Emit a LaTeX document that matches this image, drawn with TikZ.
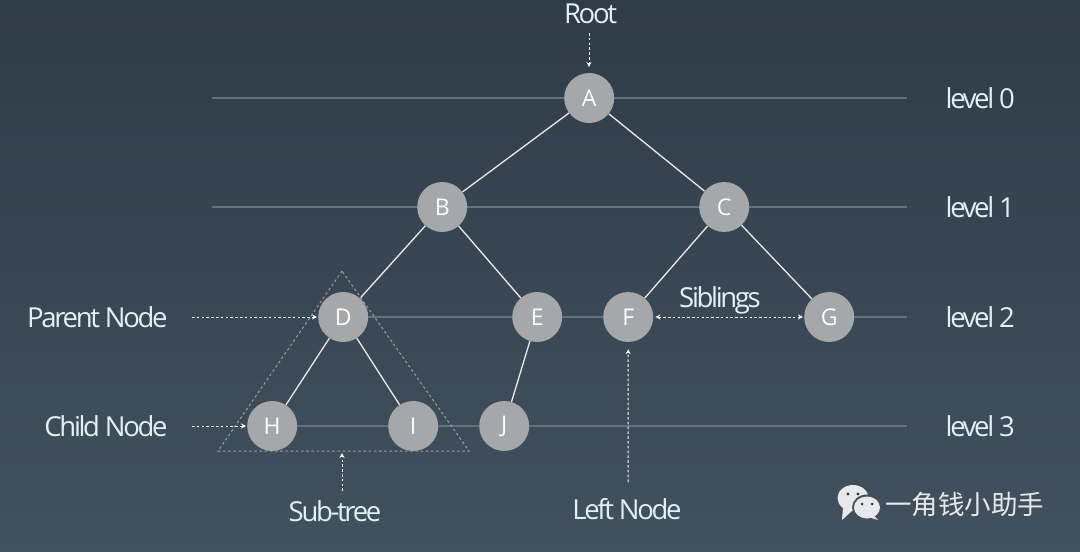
\documentclass[tikz,border=0pt]{standalone}
\usepackage{fontspec}
\setmainfont{Open Sans}
\newfontfamily\labelfont{Open Sans}[LetterSpace=-8.5]
\newfontfamily\cjkfont{Noto Sans CJK SC}
\usetikzlibrary{arrows.meta, positioning}
\definecolor{SlateTop}{RGB}{47, 60, 72}
\definecolor{SlateBottom}{RGB}{66, 81, 95}
\definecolor{TreeGray}{RGB}{165, 167, 168}
\definecolor{LevelGray}{RGB}{100, 112, 123}
\definecolor{LabelBlue}{RGB}{224, 242, 248}
\definecolor{TriangleGray}{RGB}{150, 158, 165}
\definecolor{IconGray}{RGB}{232, 233, 234}

\begin{document}
\begin{tikzpicture}[
    x=1pt, y=-1pt,
    on grid,
    every node/.style={align=center},
    treenode/.style={circle, fill=TreeGray, text=white, minimum size=50pt, inner sep=0pt, font=\fontsize{23}{26}\selectfont},
    label/.style={text=LabelBlue, font=\labelfont\fontsize{27.5}{30}\selectfont},
    levelline/.style={draw=LevelGray, line width=1.2pt},
    treeline/.style={draw=white!92!black, line width=1.3pt},
    pointer/.style={-{Stealth[length=5pt, width=5pt]}, draw=white, line width=1pt, dash pattern=on 2.6pt off 2.2pt},
    subtree/.style={draw=TriangleGray, line width=1pt, dash pattern=on 2.6pt off 2.6pt}
  ]
    % Background
    \useasboundingbox (0,0) rectangle (1080,552);
    \fill[top color=SlateTop, bottom color=SlateBottom] (0,0) rectangle (1080,552);

    % Tree nodes
    \node[treenode] (A) at (589.2,98) {A};
    \node[treenode, below left=109pt and 147pt of A] (B) {B};
    \node[treenode, below right=109pt and 135pt of A] (C) {C};
    \node[treenode, below left=110pt and 99pt of B] (D) {D};
    \node[treenode, below right=110pt and 95pt of B] (E) {E};
    \node[treenode, below left=110pt and 96pt of C] (F) {F};
    \node[treenode, below right=110pt and 105pt of C] (G) {G};
    \node[treenode, below left=109pt and 71pt of D] (H) {H};
    \node[treenode, below right=109pt and 70pt of D] (I) {I};
    \node[treenode, below left=109pt and 33pt of E] (J) {J};

    % Level labels
    \node[label, right=391pt of A] (level0) {level 0};
    \node[label, below=109pt of level0] (level1) {level 1};
    \node[label, below=110pt of level1] (level2) {level 2};
    \node[label, below=109pt of level2] (level3) {level 3};

    % Level lines
    \coordinate (start0) at (212,98);
    \coordinate (start1) at (212,207);
    \coordinate (end0) at (907,98);
    \coordinate (end1) at (907,207);
    \coordinate (end2) at (907,317);
    \coordinate (end3) at (907,426);
    \draw[levelline] (start0) -- (A) -- (end0);
    \draw[levelline] (start1) -- (B) -- (C) -- (end1);
    \draw[levelline] (D) -- (E) -- (F);
    \draw[levelline] (G) -- (end2);
    \draw[levelline] (H) -- (I) -- (J) -- (end3);

    % Tree edges
    \draw[treeline] (A) -- (B);
    \draw[treeline] (A) -- (C);
    \draw[treeline] (B) -- (D);
    \draw[treeline] (B) -- (E);
    \draw[treeline] (C) -- (F);
    \draw[treeline] (C) -- (G);
    \draw[treeline] (D) -- (H);
    \draw[treeline] (D) -- (I);
    \draw[treeline] (E) -- (J);

    % Sub-tree triangle
    \coordinate (apex) at (342,271);
    \coordinate (baseL) at (218,451);
    \coordinate (baseR) at (469,451);
    \draw[subtree] (apex) -- (baseL) -- (baseR) -- cycle;

    % Callouts
    \node[label] (root) at (590.5,14) {Root};
    \node[label, anchor=east] (parent) at (171,317) {Parent Node};
    \node[label, anchor=east] (child) at (171,426) {Child Node};
    \node[label] (sub) at (335,511) {Sub-tree};
    \node[label] (left) at (627,509) {Left Node};
    \node[label] (sib) at (720,300) {Siblings};

    \coordinate (rootS) at (589,33);
    \coordinate (rootE) at (589,67);
    \coordinate (parentS) at (192,317);
    \coordinate (childS) at (192,426);
    \coordinate (subS) at (342,491);
    \coordinate (subE) at (342,453);
    \coordinate (leftS) at (628,482);
    \draw[pointer] (rootS) -- (rootE);
    \draw[pointer, shorten >=1pt] (parentS) -- (D);
    \draw[pointer, shorten >=1pt] (childS) -- (H);
    \draw[pointer] (subS) -- (subE);
    \draw[pointer, shorten >=7pt] (leftS) -- (F);
    \draw[pointer, {Stealth[length=5pt, width=5pt]}-{Stealth[length=5pt, width=5pt]}, shorten <=2pt, shorten >=1pt] (F) -- (G);

    % Watermark
    \fill[IconGray] (853,498) ellipse [x radius=15.5pt, y radius=13pt];
    \fill[IconGray] (843,508) -- (842,520) -- (853,510) -- cycle;
    \fill[SlateBottom] (867,507.5) ellipse [x radius=15pt, y radius=13pt];
    \fill[IconGray] (867,507.5) ellipse [x radius=13pt, y radius=11pt];
    \fill[IconGray] (873,515) -- (878,520) -- (868,517) -- cycle;
    \fill[SlateTop] (848,494) circle (1.6pt) (858,494) circle (1.6pt);
    \fill[SlateTop] (862,504) circle (1.5pt) (872,504) circle (1.5pt);
    \node[text=IconGray, font=\cjkfont\fontsize{26.5}{30}\selectfont] (mark) at (964.5,504) {一角钱小助手};
  \end{tikzpicture}
\end{document}
